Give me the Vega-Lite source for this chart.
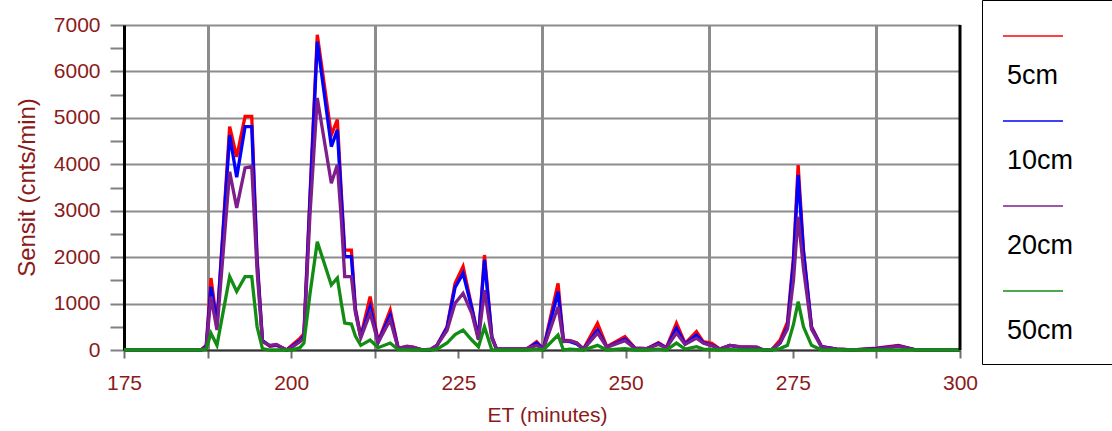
{
  "$schema": "https://vega.github.io/schema/vega-lite/v6.json",
  "width": 836,
  "height": 325,
  "autosize": "none",
  "padding": {"left": 124, "top": 25, "right": 152, "bottom": 81},
  "background": "white",
  "config": {"font": "Liberation Sans", "view": {"stroke": null}},
  "data": {"values": [
    {"t":175,"d":"5cm","v":0},{"t":186.5,"d":"5cm","v":0},{"t":187.3,"d":"5cm","v":100},{"t":188,"d":"5cm","v":1550},{"t":188.9,"d":"5cm","v":580},{"t":190.8,"d":"5cm","v":4810},{"t":191.85,"d":"5cm","v":4160},{"t":193.1,"d":"5cm","v":5030},{"t":194.1,"d":"5cm","v":5030},{"t":194.9,"d":"5cm","v":2000},{"t":195.7,"d":"5cm","v":200},{"t":196.8,"d":"5cm","v":80},{"t":197.8,"d":"5cm","v":100},{"t":199.3,"d":"5cm","v":0},{"t":200.1,"d":"5cm","v":100},{"t":201.3,"d":"5cm","v":250},{"t":201.9,"d":"5cm","v":350},{"t":202.8,"d":"5cm","v":3300},{"t":203.9,"d":"5cm","v":6790},{"t":206,"d":"5cm","v":4630},{"t":206.9,"d":"5cm","v":4960},{"t":207.5,"d":"5cm","v":3380},{"t":208,"d":"5cm","v":2150},{"t":209,"d":"5cm","v":2150},{"t":209.6,"d":"5cm","v":900},{"t":210.4,"d":"5cm","v":290},{"t":211.8,"d":"5cm","v":1150},{"t":213,"d":"5cm","v":180},{"t":214.8,"d":"5cm","v":860},{"t":216,"d":"5cm","v":40},{"t":217.3,"d":"5cm","v":70},{"t":218.2,"d":"5cm","v":60},{"t":219.7,"d":"5cm","v":0},{"t":220.8,"d":"5cm","v":0},{"t":221.8,"d":"5cm","v":100},{"t":223.3,"d":"5cm","v":500},{"t":224.5,"d":"5cm","v":1435},{"t":225.7,"d":"5cm","v":1795},{"t":227,"d":"5cm","v":930},{"t":228,"d":"5cm","v":250},{"t":228.9,"d":"5cm","v":2046},{"t":230,"d":"5cm","v":290},{"t":230.7,"d":"5cm","v":20},{"t":235.2,"d":"5cm","v":20},{"t":236.7,"d":"5cm","v":180},{"t":237.7,"d":"5cm","v":20},{"t":239.9,"d":"5cm","v":1435},{"t":240.7,"d":"5cm","v":215},{"t":241.7,"d":"5cm","v":200},{"t":242.7,"d":"5cm","v":150},{"t":243.7,"d":"5cm","v":20},{"t":245.8,"d":"5cm","v":575},{"t":247.2,"d":"5cm","v":70},{"t":249.9,"d":"5cm","v":290},{"t":251.4,"d":"5cm","v":40},{"t":253.2,"d":"5cm","v":30},{"t":254.9,"d":"5cm","v":160},{"t":256.1,"d":"5cm","v":50},{"t":257.6,"d":"5cm","v":575},{"t":258.9,"d":"5cm","v":140},{"t":260.6,"d":"5cm","v":395},{"t":261.6,"d":"5cm","v":180},{"t":262.9,"d":"5cm","v":145},{"t":264.1,"d":"5cm","v":20},{"t":265.6,"d":"5cm","v":100},{"t":267.1,"d":"5cm","v":60},{"t":269.6,"d":"5cm","v":60},{"t":270.6,"d":"5cm","v":0},{"t":271.8,"d":"5cm","v":0},{"t":273.1,"d":"5cm","v":215},{"t":274.2,"d":"5cm","v":600},{"t":275.1,"d":"5cm","v":2000},{"t":275.8,"d":"5cm","v":3985},{"t":276.6,"d":"5cm","v":2150},{"t":277.8,"d":"5cm","v":500},{"t":279.3,"d":"5cm","v":70},{"t":281.6,"d":"5cm","v":20},{"t":284,"d":"5cm","v":0},{"t":287.5,"d":"5cm","v":40},{"t":290.8,"d":"5cm","v":100},{"t":293.5,"d":"5cm","v":0},{"t":300,"d":"5cm","v":0},

    {"t":175,"d":"10cm","v":0},{"t":186.5,"d":"10cm","v":0},{"t":187.3,"d":"10cm","v":80},{"t":188,"d":"10cm","v":1360},{"t":188.9,"d":"10cm","v":560},{"t":190.8,"d":"10cm","v":4630},{"t":191.85,"d":"10cm","v":3720},{"t":193.1,"d":"10cm","v":4810},{"t":194.1,"d":"10cm","v":4810},{"t":194.9,"d":"10cm","v":1900},{"t":195.7,"d":"10cm","v":200},{"t":196.8,"d":"10cm","v":90},{"t":197.8,"d":"10cm","v":110},{"t":199.3,"d":"10cm","v":0},{"t":200.1,"d":"10cm","v":80},{"t":201.3,"d":"10cm","v":200},{"t":201.9,"d":"10cm","v":300},{"t":202.8,"d":"10cm","v":3200},{"t":203.9,"d":"10cm","v":6640},{"t":206,"d":"10cm","v":4380},{"t":206.9,"d":"10cm","v":4740},{"t":207.5,"d":"10cm","v":3250},{"t":208,"d":"10cm","v":2010},{"t":209,"d":"10cm","v":2010},{"t":209.6,"d":"10cm","v":850},{"t":210.4,"d":"10cm","v":280},{"t":211.8,"d":"10cm","v":930},{"t":213,"d":"10cm","v":170},{"t":214.8,"d":"10cm","v":750},{"t":216,"d":"10cm","v":40},{"t":217.3,"d":"10cm","v":60},{"t":218.2,"d":"10cm","v":50},{"t":219.7,"d":"10cm","v":0},{"t":220.8,"d":"10cm","v":0},{"t":221.8,"d":"10cm","v":100},{"t":223.3,"d":"10cm","v":480},{"t":224.5,"d":"10cm","v":1350},{"t":225.7,"d":"10cm","v":1650},{"t":227,"d":"10cm","v":900},{"t":228,"d":"10cm","v":240},{"t":228.9,"d":"10cm","v":1940},{"t":230,"d":"10cm","v":280},{"t":230.7,"d":"10cm","v":20},{"t":235.2,"d":"10cm","v":20},{"t":236.7,"d":"10cm","v":150},{"t":237.7,"d":"10cm","v":20},{"t":239.9,"d":"10cm","v":1255},{"t":240.7,"d":"10cm","v":200},{"t":241.7,"d":"10cm","v":180},{"t":242.7,"d":"10cm","v":130},{"t":243.7,"d":"10cm","v":20},{"t":245.8,"d":"10cm","v":430},{"t":247.2,"d":"10cm","v":60},{"t":249.9,"d":"10cm","v":240},{"t":251.4,"d":"10cm","v":40},{"t":253.2,"d":"10cm","v":30},{"t":254.9,"d":"10cm","v":140},{"t":256.1,"d":"10cm","v":50},{"t":257.6,"d":"10cm","v":470},{"t":258.9,"d":"10cm","v":130},{"t":260.6,"d":"10cm","v":325},{"t":261.6,"d":"10cm","v":160},{"t":262.9,"d":"10cm","v":100},{"t":264.1,"d":"10cm","v":20},{"t":265.6,"d":"10cm","v":100},{"t":267.1,"d":"10cm","v":60},{"t":269.6,"d":"10cm","v":50},{"t":270.6,"d":"10cm","v":0},{"t":271.8,"d":"10cm","v":0},{"t":273.1,"d":"10cm","v":150},{"t":274.2,"d":"10cm","v":500},{"t":275.1,"d":"10cm","v":1900},{"t":275.8,"d":"10cm","v":3770},{"t":276.6,"d":"10cm","v":2100},{"t":277.8,"d":"10cm","v":480},{"t":279.3,"d":"10cm","v":70},{"t":281.6,"d":"10cm","v":20},{"t":284,"d":"10cm","v":0},{"t":287.5,"d":"10cm","v":30},{"t":290.8,"d":"10cm","v":90},{"t":293.5,"d":"10cm","v":0},{"t":300,"d":"10cm","v":0},

    {"t":175,"d":"20cm","v":0},{"t":186.5,"d":"20cm","v":0},{"t":187.3,"d":"20cm","v":60},{"t":188,"d":"20cm","v":1150},{"t":188.9,"d":"20cm","v":430},{"t":190.8,"d":"20cm","v":3840},{"t":191.85,"d":"20cm","v":3060},{"t":193.1,"d":"20cm","v":3920},{"t":194.1,"d":"20cm","v":3950},{"t":194.9,"d":"20cm","v":1700},{"t":195.7,"d":"20cm","v":180},{"t":196.8,"d":"20cm","v":100},{"t":197.8,"d":"20cm","v":120},{"t":199.3,"d":"20cm","v":0},{"t":200.1,"d":"20cm","v":60},{"t":201.3,"d":"20cm","v":180},{"t":201.9,"d":"20cm","v":250},{"t":202.8,"d":"20cm","v":2900},{"t":203.9,"d":"20cm","v":5430},{"t":206,"d":"20cm","v":3590},{"t":206.9,"d":"20cm","v":3990},{"t":207.5,"d":"20cm","v":2800},{"t":208,"d":"20cm","v":1580},{"t":209,"d":"20cm","v":1580},{"t":209.6,"d":"20cm","v":800},{"t":210.4,"d":"20cm","v":260},{"t":211.8,"d":"20cm","v":795},{"t":213,"d":"20cm","v":160},{"t":214.8,"d":"20cm","v":650},{"t":216,"d":"20cm","v":30},{"t":217.3,"d":"20cm","v":80},{"t":218.2,"d":"20cm","v":60},{"t":219.7,"d":"20cm","v":0},{"t":220.8,"d":"20cm","v":20},{"t":221.8,"d":"20cm","v":100},{"t":223.3,"d":"20cm","v":420},{"t":224.5,"d":"20cm","v":1005},{"t":225.7,"d":"20cm","v":1220},{"t":227,"d":"20cm","v":790},{"t":228,"d":"20cm","v":220},{"t":228.9,"d":"20cm","v":1290},{"t":230,"d":"20cm","v":250},{"t":230.7,"d":"20cm","v":20},{"t":235.2,"d":"20cm","v":30},{"t":236.7,"d":"20cm","v":100},{"t":237.7,"d":"20cm","v":20},{"t":239.9,"d":"20cm","v":930},{"t":240.7,"d":"20cm","v":180},{"t":241.7,"d":"20cm","v":200},{"t":242.7,"d":"20cm","v":150},{"t":243.7,"d":"20cm","v":20},{"t":245.8,"d":"20cm","v":365},{"t":247.2,"d":"20cm","v":60},{"t":249.9,"d":"20cm","v":200},{"t":251.4,"d":"20cm","v":30},{"t":253.2,"d":"20cm","v":30},{"t":254.9,"d":"20cm","v":120},{"t":256.1,"d":"20cm","v":50},{"t":257.6,"d":"20cm","v":365},{"t":258.9,"d":"20cm","v":120},{"t":260.6,"d":"20cm","v":255},{"t":261.6,"d":"20cm","v":150},{"t":262.9,"d":"20cm","v":90},{"t":264.1,"d":"20cm","v":20},{"t":265.6,"d":"20cm","v":100},{"t":267.1,"d":"20cm","v":70},{"t":269.6,"d":"20cm","v":60},{"t":270.6,"d":"20cm","v":0},{"t":271.8,"d":"20cm","v":0},{"t":273.1,"d":"20cm","v":150},{"t":274.2,"d":"20cm","v":450},{"t":275.1,"d":"20cm","v":1500},{"t":275.8,"d":"20cm","v":2870},{"t":276.6,"d":"20cm","v":1750},{"t":277.8,"d":"20cm","v":450},{"t":279.3,"d":"20cm","v":60},{"t":281.6,"d":"20cm","v":20},{"t":284,"d":"20cm","v":0},{"t":287.5,"d":"20cm","v":20},{"t":290.8,"d":"20cm","v":80},{"t":293.5,"d":"20cm","v":0},{"t":300,"d":"20cm","v":0},

    {"t":175,"d":"50cm","v":0},{"t":186.5,"d":"50cm","v":0},{"t":187.3,"d":"50cm","v":20},{"t":188,"d":"50cm","v":360},{"t":188.9,"d":"50cm","v":100},{"t":190.8,"d":"50cm","v":1580},{"t":191.85,"d":"50cm","v":1260},{"t":193.1,"d":"50cm","v":1580},{"t":194.1,"d":"50cm","v":1580},{"t":194.9,"d":"50cm","v":500},{"t":195.7,"d":"50cm","v":30},{"t":196.8,"d":"50cm","v":0},{"t":197.8,"d":"50cm","v":0},{"t":199.3,"d":"50cm","v":0},{"t":200.1,"d":"50cm","v":0},{"t":201.3,"d":"50cm","v":50},{"t":201.9,"d":"50cm","v":150},{"t":202.8,"d":"50cm","v":1200},{"t":203.9,"d":"50cm","v":2330},{"t":206,"d":"50cm","v":1400},{"t":206.9,"d":"50cm","v":1550},{"t":207.5,"d":"50cm","v":1000},{"t":208,"d":"50cm","v":580},{"t":209,"d":"50cm","v":560},{"t":209.6,"d":"50cm","v":300},{"t":210.4,"d":"50cm","v":100},{"t":211.8,"d":"50cm","v":215},{"t":213,"d":"50cm","v":50},{"t":214.8,"d":"50cm","v":150},{"t":216,"d":"50cm","v":10},{"t":217.3,"d":"50cm","v":10},{"t":218.2,"d":"50cm","v":0},{"t":219.7,"d":"50cm","v":0},{"t":220.8,"d":"50cm","v":0},{"t":221.8,"d":"50cm","v":20},{"t":223.3,"d":"50cm","v":150},{"t":224.5,"d":"50cm","v":330},{"t":225.7,"d":"50cm","v":430},{"t":227,"d":"50cm","v":215},{"t":228,"d":"50cm","v":70},{"t":228.9,"d":"50cm","v":500},{"t":230,"d":"50cm","v":0},{"t":230.7,"d":"50cm","v":0},{"t":235.2,"d":"50cm","v":0},{"t":236.7,"d":"50cm","v":20},{"t":237.7,"d":"50cm","v":0},{"t":239.9,"d":"50cm","v":323},{"t":240.7,"d":"50cm","v":0},{"t":241.7,"d":"50cm","v":20},{"t":242.7,"d":"50cm","v":10},{"t":243.7,"d":"50cm","v":0},{"t":245.8,"d":"50cm","v":100},{"t":247.2,"d":"50cm","v":0},{"t":249.9,"d":"50cm","v":30},{"t":251.4,"d":"50cm","v":0},{"t":253.2,"d":"50cm","v":0},{"t":254.9,"d":"50cm","v":20},{"t":256.1,"d":"50cm","v":0},{"t":257.6,"d":"50cm","v":150},{"t":258.9,"d":"50cm","v":20},{"t":260.6,"d":"50cm","v":70},{"t":261.6,"d":"50cm","v":20},{"t":262.9,"d":"50cm","v":10},{"t":264.1,"d":"50cm","v":0},{"t":265.6,"d":"50cm","v":10},{"t":267.1,"d":"50cm","v":0},{"t":269.6,"d":"50cm","v":0},{"t":270.6,"d":"50cm","v":0},{"t":271.8,"d":"50cm","v":0},{"t":273.1,"d":"50cm","v":30},{"t":274.2,"d":"50cm","v":100},{"t":275.1,"d":"50cm","v":550},{"t":275.8,"d":"50cm","v":1040},{"t":276.6,"d":"50cm","v":500},{"t":277.8,"d":"50cm","v":100},{"t":279.3,"d":"50cm","v":0},{"t":281.6,"d":"50cm","v":0},{"t":284,"d":"50cm","v":0},{"t":287.5,"d":"50cm","v":0},{"t":290.8,"d":"50cm","v":0},{"t":293.5,"d":"50cm","v":0},{"t":300,"d":"50cm","v":0}
  ]},
  "layer": [
    {
      "mark": {"type": "line", "strokeWidth": 3.3},
      "encoding": {
        "x": {
          "field": "t", "type": "quantitative",
          "scale": {"domain": [175, 300], "nice": false, "zero": false},
          "axis": {
            "title": "ET (minutes)",
            "values": [175, 187.5, 200, 212.5, 225, 237.5, 250, 262.5, 275, 287.5, 300],
            "labelExpr": "datum.value % 25 == 0 ? datum.label : ''",
            "format": "d",
            "labelFlush": false,
            "labelOverlap": false,
            "labelFontSize": 21,
            "labelColor": "#8b1a1a",
            "labelPadding": 14,
            "tickSize": 8,
            "tickColor": "#707070",
            "tickWidth": 2,
            "domainColor": "#333333",
            "domainWidth": 2,
            "grid": true,
            "gridColor": "#8c8c8c",
            "gridWidth": 3,
            "gridOpacity": {"condition": {"test": "datum.value % 25 != 0", "value": 1}, "value": 0},
            "titleFontSize": 21,
            "titleFontWeight": "normal",
            "titleColor": "#8b1a1a",
            "titleX": 423,
            "titleY": 65,
            "titleAlign": "center",
            "titleBaseline": "middle"
          }
        },
        "y": {
          "field": "v", "type": "quantitative",
          "scale": {"domain": [0, 7000], "nice": false},
          "axis": {
            "title": "Sensit (cnts/min)",
            "values": [0, 500, 1000, 1500, 2000, 2500, 3000, 3500, 4000, 4500, 5000, 5500, 6000, 6500, 7000],
            "format": "d",
            "labelExpr": "datum.value % 1000 == 0 ? datum.label : ''",
            "labelOverlap": false,
            "labelFontSize": 21,
            "labelColor": "#8b1a1a",
            "labelPadding": 10,
            "tickSize": 14,
            "tickColor": "#808080",
            "tickWidth": 2,
            "domainColor": "black",
            "domainWidth": 3,
            "grid": true,
            "gridColor": "#8c8c8c",
            "gridWidth": 2,
            "gridOpacity": {"condition": {"test": "datum.value % 1000 == 0", "value": 1}, "value": 0},
            "titleFontSize": 24,
            "titleFontWeight": "normal",
            "titleColor": "#8b1a1a",
            "titleX": -97,
            "titleY": 162,
            "titleAngle": -90,
            "titleAlign": "center",
            "titleBaseline": "middle"
          }
        },
        "color": {
          "field": "d", "type": "nominal",
          "scale": {"domain": ["5cm", "10cm", "20cm", "50cm"], "range": ["#ff0000", "#0000ff", "#7d1e8c", "#128c12"]},
          "legend": {
            "orient": "none",
            "legendX": 858,
            "legendY": -25,
            "title": null,
            "symbolType": "stroke",
            "symbolSize": 3600,
            "symbolStrokeWidth": 1.5,
            "labelFont": "Liberation Sans",
            "labelFontSize": 27,
            "labelColor": "black",
            "labelOffset": -57,
            "labelBaseline": "alphabetic",
            "labelLimit": 300,
            "labelExpr": "datum.label + '\u2800\u2800'",
            "rowPadding": 16,
            "padding": 20,
            "strokeColor": "black",
            "fillColor": "white",
            "encode": {
              "symbols": {"update": {"y": {"value": 16}}},
              "labels": {"update": {"dy": {"value": 33}}}
            }
          }
        }
      }
    },
    {
      "data": {"values": [{"t": 300}]},
      "mark": {"type": "rule", "color": "black", "strokeWidth": 3},
      "encoding": {"x": {"field": "t", "type": "quantitative"}}
    }
  ]
}
